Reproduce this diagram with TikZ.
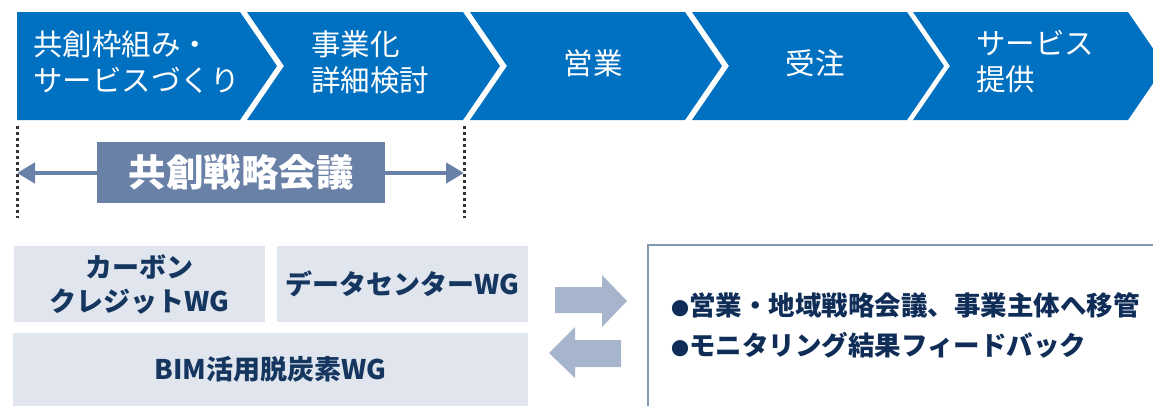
\documentclass[tikz,border=0pt]{standalone}
\usepackage{fontspec}
\setmainfont{Noto Sans CJK JP}
\usetikzlibrary{arrows.meta}
\definecolor{chev}{HTML}{0070C0}
\definecolor{strat}{HTML}{6A81A7}
\definecolor{wgfill}{HTML}{E0E5EE}
\definecolor{wgtext}{HTML}{14365F}
\definecolor{fatarrow}{HTML}{A7B5CC}
\definecolor{boxline}{HTML}{8497B0}
\definecolor{dotcol}{HTML}{333333}
\definecolor{rtext}{HTML}{0F2D57}
\tikzset{
  chevshape/.style={fill=chev, draw=none},
  chevtext/.style={text=white, font=\fontsize{29.5}{36}\selectfont, align=left, inner sep=0pt},
  wgbox/.style={fill=wgfill, text=wgtext, font=\bfseries\fontsize{27}{34}\selectfont, align=center, inner sep=0pt, minimum height=76},
  dotline/.style={draw=dotcol, line width=3, dash pattern=on 3 off 3},
  fatarr/.style={fill=fatarrow, draw=none},
}
\begin{document}
\begin{tikzpicture}[x=1pt,y=-1pt]
\path[use as bounding box] (0,0) rectangle (1153,405);
\clip (0,0) rectangle (1153,405);
% chevrons
\fill[chevshape] (17,12) -- (240,12) -- (277,66) -- (240,120) -- (17,120) -- cycle;
\fill[chevshape] (247,12) -- (463,12) -- (500,66) -- (463,120) -- (247,120) -- (284,66) -- cycle;
\fill[chevshape] (470,12) -- (685,12) -- (722,66) -- (685,120) -- (470,120) -- (507,66) -- cycle;
\fill[chevshape] (692,12) -- (907,12) -- (944,66) -- (907,120) -- (692,120) -- (729,66) -- cycle;
\fill[chevshape] (913,12) -- (1128,12) -- (1165,66) -- (1128,120) -- (913,120) -- (950,66) -- cycle;
\node[chevtext, anchor=west] (c1) at (33,62) {共創枠組み・\\サービスづくり};
\node[chevtext, anchor=west] (c2) at (311,62) {事業化\\詳細検討};
\node[chevtext] (c3) at (593,63) {営業};
\node[chevtext] (c4) at (815,63) {受注};
\node[chevtext, anchor=west] (c5) at (976,62) {サービス\\提供};
% dotted boundaries
\coordinate (d1a) at (17,126); \coordinate (d1b) at (17,218);
\coordinate (d2a) at (464,126); \coordinate (d2b) at (464,218);
\draw[dotline] (d1a) -- (d1b);
\draw[dotline] (d2a) -- (d2b);
\coordinate (al) at (17,173); \coordinate (ar) at (464,173);
\draw[strat, line width=4.5, {Triangle[length=18,width=20]}-{Triangle[length=18,width=20]}] (al) -- (ar);
\node[fill=strat, text=white, font=\bfseries\fontsize{37.5}{37.5}\selectfont, minimum width=288, minimum height=61, inner sep=0pt] (strat) at (241,172.5) {共創戦略会議};
% WG boxes
\node[wgbox, minimum width=251] (wg1) at (139.5,284) {カーボン\\クレジットWG};
\node[wgbox, minimum width=251] (wg2) at (402.5,284) {データセンターWG};
\node[wgbox, minimum width=515, minimum height=73] (wg3) at (270.5,369.5) {BIM活用脱炭素WG};
% fat arrows
\fill[fatarr] (555,287) -- (602,287) -- (602,275) -- (627,301) -- (602,327) -- (602,313) -- (555,313) -- cycle;
\fill[fatarr] (621,340) -- (575,340) -- (575,327) -- (549,353) -- (575,378) -- (575,367) -- (621,367) -- cycle;
% right box
\draw[boxline, line width=2] (1170,245) -- (648,245) -- (648,420);
\node[text=rtext, font=\bfseries\fontsize{26.5}{40}\selectfont, align=left, anchor=west, inner sep=0pt] (rt) at (671,325) {{\fontsize{18}{18}\selectfont ●}営業・地域戦略会議、事業主体へ移管\\{\fontsize{18}{18}\selectfont ●}モニタリング結果フィードバック};
\end{tikzpicture}
\end{document}
